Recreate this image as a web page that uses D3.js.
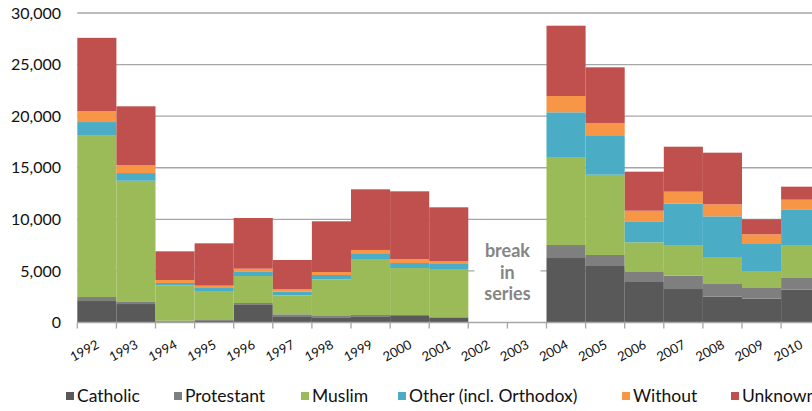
<!DOCTYPE html>
<html>
<head>
<meta charset="utf-8">
<script src="https://cdn.jsdelivr.net/npm/d3@7"></script>
<style>
  html, body { margin: 0; padding: 0; background: #fff; overflow: hidden; }
  svg { display: block; font-family: Lato, "Open Sans", sans-serif; }
</style>
</head>
<body>
<div id="chart"></div>
<script>
// ---- Data ----
const years = ["1992","1993","1994","1995","1996","1997","1998","1999","2000","2001","2002","2003","2004","2005","2006","2007","2008","2009","2010"];
const catholic   = [2080,1790,100,150,1765,535,505,600,630,470,0,0,6250,5475,3925,3245,2500,2310,3180];
const protestant = [390,260,80,90,125,260,125,125,95,65,0,0,1260,1070,970,1295,1230,1035,1135];
const muslim     = [15700,11690,3425,2815,2615,1840,3555,5430,4555,4650,0,0,8530,7780,2880,2970,2620,1645,3195];
const other      = [1260,745,225,290,420,350,420,485,485,485,0,0,4335,3755,2035,4005,3940,2620,3460];
const without    = [1065,780,290,225,290,260,290,390,390,290,0,0,1580,1260,1025,1165,1165,940,935];
const unknown    = [7100,5690,2780,4105,4915,2815,4915,5880,6560,5205,0,0,6815,5395,3785,4360,5005,1455,1260];
const seriesNames = ["Catholic","Protestant","Muslim","Other (incl. Orthodox)","Without","Unknown"];
const seriesColors = ["#595959","#7f7f7f","#9bbb59","#4bacc6","#f79646","#c0504d"];
const yTicks = [0,5000,10000,15000,20000,25000,30000];
const breakLabel = ["break","in","series"];

// ---- Build table ----
const cols = [catholic, protestant, muslim, other, without, unknown];
const keys = seriesNames;
const table = years.map((y, i) => {
  const row = { year: y };
  keys.forEach((k, j) => row[k] = cols[j][i]);
  return row;
});

const W = 840, H = 411;
const svg = d3.select("#chart").append("svg").attr("width", W).attr("height", H);

const x = d3.scaleBand().domain(years).range([77.3, 77.3 + 19 * 39.1]).padding(0);
const y = d3.scaleLinear().domain([0, 30000]).range([322.5, 13]);

// gridlines
svg.append("g").selectAll("line").data(yTicks.filter(t => t > 0)).join("line")
  .attr("x1", 77.3).attr("x2", W)
  .attr("y1", d => y(d)).attr("y2", d => y(d))
  .attr("stroke", "#a6a6a6").attr("stroke-width", 1.3);

// y tick labels
svg.append("g").selectAll("text").data(yTicks).join("text")
  .attr("x", 61).attr("y", d => y(d)).attr("dy", "0.35em")
  .attr("text-anchor", "end").attr("font-size", 16).attr("fill", "#111")
  .text(d => d3.format(",")(d));

// stacked bars
const stack = d3.stack().keys(keys)(table);
svg.append("g").selectAll("g").data(stack).join("g")
  .attr("fill", (d, i) => seriesColors[i])
  .selectAll("rect").data(d => d).join("rect")
  .attr("x", d => x(d.data.year))
  .attr("width", x.bandwidth())
  .attr("y", d => y(d[1]))
  .attr("height", d => y(d[0]) - y(d[1]));

// x axis
const xAxis = svg.append("g").attr("transform", `translate(0,${y(0)})`);
xAxis.append("line").attr("x1", 77.3).attr("x2", W).attr("stroke", "#a6a6a6").attr("stroke-width", 1.3);
const bounds = years.map(yr => x(yr)).concat([x(years[years.length - 1]) + x.bandwidth()]);
xAxis.selectAll("line.tick").data(bounds).join("line").attr("class", "tick")
  .attr("x1", d => d).attr("x2", d => d).attr("y1", 0).attr("y2", 6)
  .attr("stroke", "#a6a6a6").attr("stroke-width", 1.3);
xAxis.selectAll("text").data(years).join("text")
  .attr("transform", d => `translate(${x(d) + x.bandwidth() / 2 + 3},${25}) rotate(-28)`)
  .attr("text-anchor", "end").attr("font-size", 13).attr("fill", "#111")
  .text(d => d);

// break in series annotation
const bx = x("2003");
svg.append("rect").attr("x", bx - 33).attr("y", 236).attr("width", 66).attr("height", 76).attr("fill", "#fff");
svg.append("g").selectAll("text").data(breakLabel).join("text")
  .attr("x", bx).attr("y", (d, i) => 257 + i * 21.5)
  .attr("text-anchor", "middle").attr("font-size", 18).attr("font-weight", "bold")
  .attr("fill", "#858585").text(d => d);

// legend
const legendX = [66, 174, 301, 398, 622, 731];
const lg = svg.append("g").selectAll("g").data(seriesNames).join("g")
  .attr("transform", (d, i) => `translate(${legendX[i]},396)`);
lg.append("rect").attr("x", 0).attr("y", -4).attr("width", 8).attr("height", 8)
  .attr("fill", (d, i) => seriesColors[i]);
lg.append("text").attr("x", 11).attr("y", 0).attr("dy", "0.35em")
  .attr("font-size", 17.5).attr("fill", "#111").text(d => d);
</script>
</body>
</html>
